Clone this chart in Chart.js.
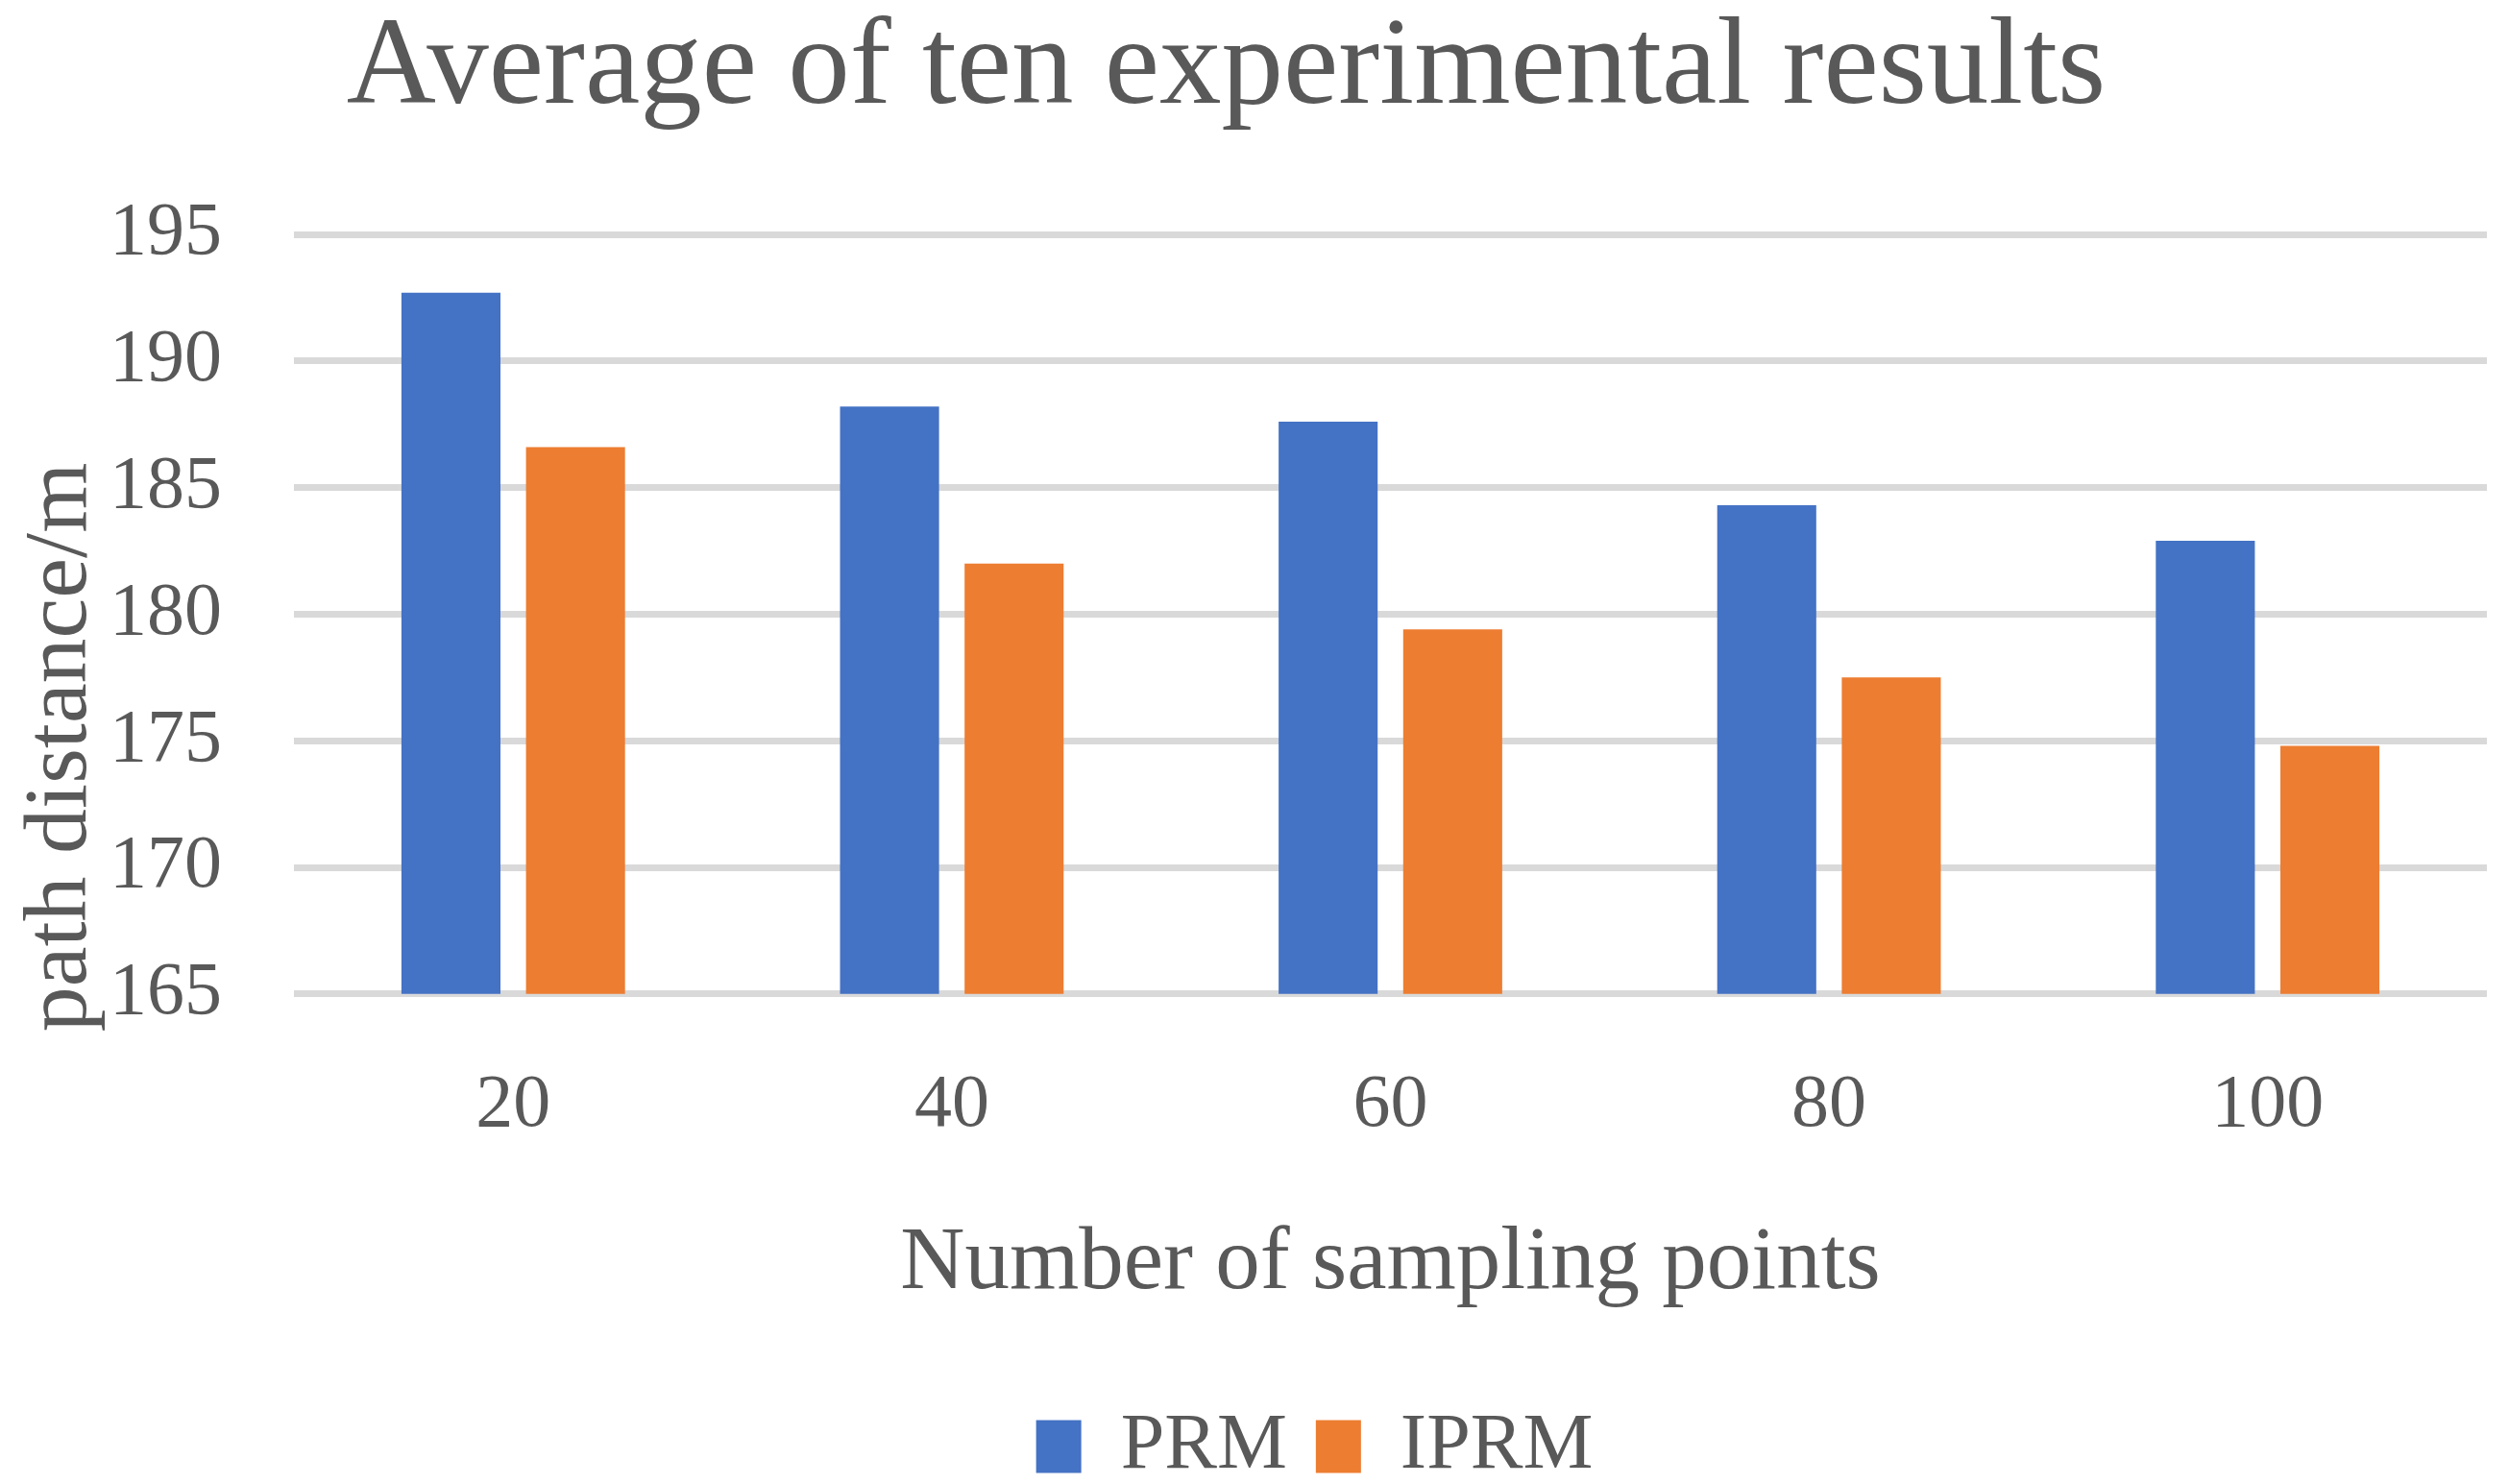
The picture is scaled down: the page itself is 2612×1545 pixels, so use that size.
<!DOCTYPE html>
<html>
<head>
<meta charset="utf-8">
<script src="https://cdn.jsdelivr.net/npm/chart.js@4"></script>
<style>
    html, body { margin: 0; padding: 0; background: #ffffff; }
    #wrap { width: 2612px; height: 1545px; }
</style>
</head>
<body>
<div id="wrap"><canvas id="barChart" width="2612" height="1545"></canvas></div>
<script>
const categories = ["20", "40", "60", "80", "100"];
const seriesNames = ["PRM", "IPRM"];
const prmValues = [192.7, 188.2, 187.6, 184.3, 182.9];
const iprmValues = [186.6, 182.0, 179.4, 177.5, 174.8];
const yMin = 165;
const yMax = 195;
const yStep = 5;

const textColor = "#595959";
const serif = "'Liberation Serif', 'DejaVu Serif', serif";

document.addEventListener("DOMContentLoaded", function () {
    const ctx = document.getElementById("barChart").getContext("2d");

    // y axis title is drawn by hand so it can sit off-centre like the original
    const yTitlePlugin = {
        id: "yTitle",
        afterLayout(chart) {
            // nudge title and legend to where they sit in the original
            chart.titleBlock.left -= 18;
            chart.titleBlock.right -= 18;
            chart.legend.left += 74;
            chart.legend.right += 74;
            chart.legend.top += 12;
            chart.legend.bottom += 12;
        },
        afterDraw(chart) {
            const c = chart.ctx;
            c.save();
            c.translate(64, 778);
            c.rotate(-Math.PI / 2);
            c.font = "94px " + serif;
            c.fillStyle = textColor;
            c.textAlign = "center";
            c.textBaseline = "middle";
            c.fillText("path distance/m", 0, 0);
            c.restore();
        }
    };

    new Chart(ctx, {
        type: "bar",
        data: {
            labels: categories,
            datasets: [{
                label: seriesNames[0],
                data: prmValues,
                backgroundColor: "#4472c4",
                categoryPercentage: 0.568,
                barPercentage: 0.795
            }, {
                label: seriesNames[1],
                data: iprmValues,
                backgroundColor: "#ed7d31",
                categoryPercentage: 0.568,
                barPercentage: 0.795
            }]
        },
        options: {
            responsive: false,
            animation: false,
            devicePixelRatio: 1,
            layout: { padding: { left: 0, right: 23, top: 0, bottom: 0 } },
            plugins: {
                title: {
                    display: true,
                    text: "Average of ten experimental results",
                    color: textColor,
                    font: { family: serif, size: 129, weight: "normal", lineHeight: 1.0 },
                    padding: { top: 9, bottom: 106 }
                },
                legend: {
                    position: "bottom",
                    labels: {
                        color: textColor,
                        font: { family: serif, size: 82 },
                        boxWidth: 47,
                        boxHeight: 55,
                        padding: 30
                    }
                },
                tooltip: { enabled: false }
            },
            scales: {
                x: {
                    grid: { display: false },
                    border: { display: false },
                    ticks: {
                        color: textColor,
                        font: { family: serif, size: 78 },
                        padding: 62
                    },
                    title: {
                        display: true,
                        text: "Number of sampling points",
                        color: textColor,
                        font: { family: serif, size: 93 },
                        padding: { top: 0, bottom: 51 }
                    }
                },
                y: {
                    min: yMin,
                    max: yMax,
                    afterFit(scale) { scale.width = 306; },
                    grid: { color: "#d9d9d9", lineWidth: 7, drawTicks: false },
                    border: { display: false },
                    ticks: {
                        stepSize: yStep,
                        color: textColor,
                        font: { family: serif, size: 78 },
                        padding: 75
                    }
                }
            }
        },
        plugins: [yTitlePlugin]
    });
});
</script>
</body>
</html>
